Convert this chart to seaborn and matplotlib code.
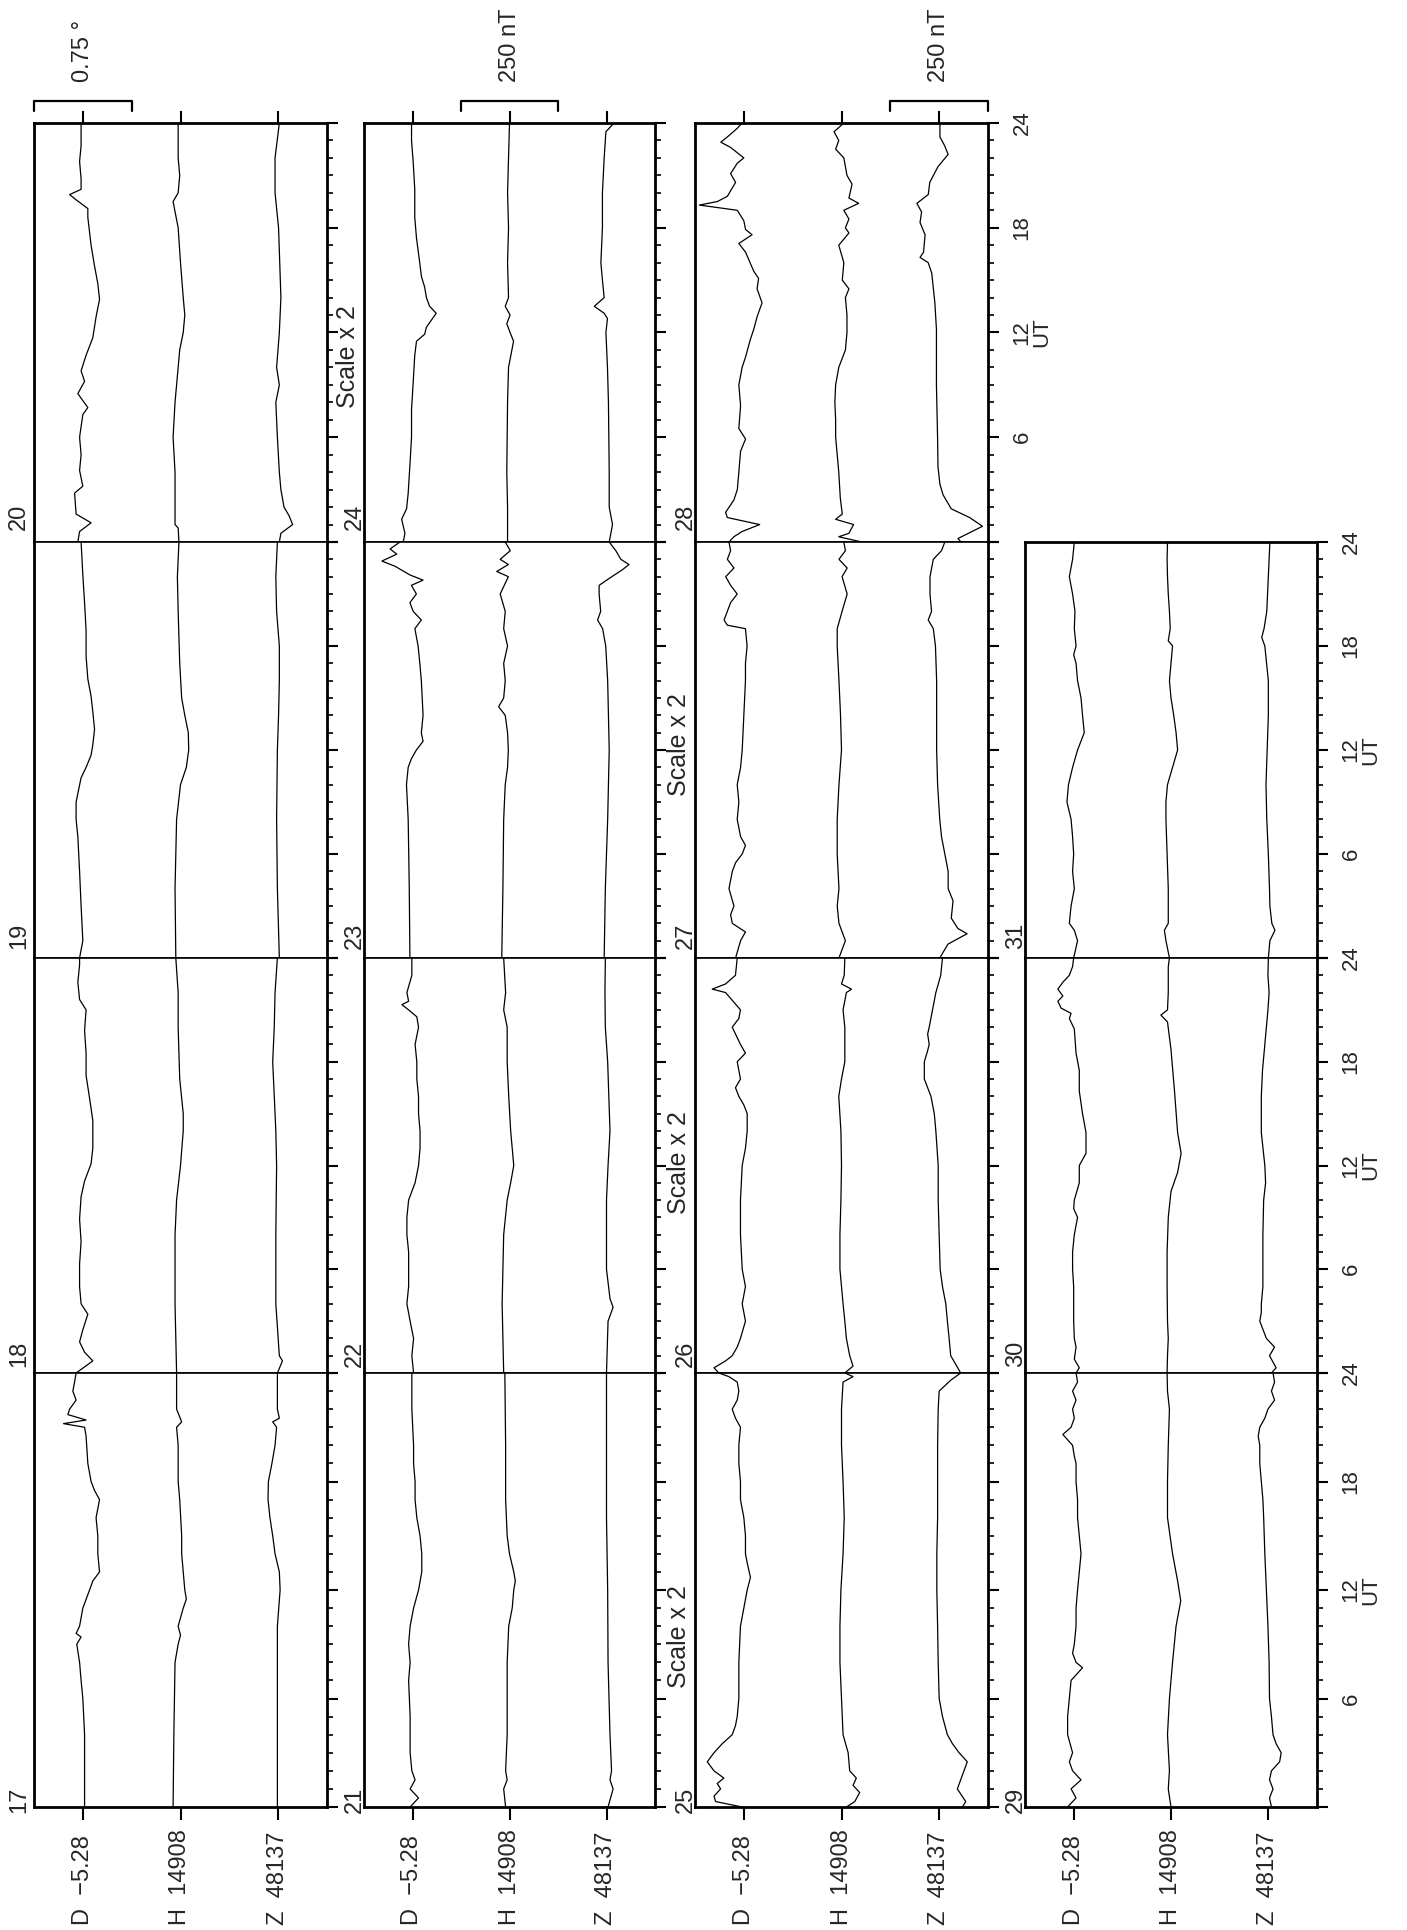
import matplotlib
matplotlib.use("Agg")
import matplotlib.pyplot as plt
import matplotlib.transforms as mtransforms
from matplotlib.ticker import FixedLocator
import numpy as np
import pandas as pd
import seaborn as sns

sns.set_theme(style="white")
plt.rcParams["font.family"] = ["Liberation Sans", "DejaVu Sans"]

# ---------------- data: (UT hour, deviation from baseline) ----------------
# D in arc-minutes, H and Z in nT (true values; "Scale x 2" days are drawn at half size)
D17 = [(0,0.8),(4,0.8),(6,0),(7,-0.8),(8,-1.5),(9,-2.8),(9.4,-0.8),(9.6,-3.1),(10,-1.5),(11,0),(12,3.1),(12.5,4.6),(13,7.7),(14,6.9),(15,6.9),(16,6.1),(17,7.7),(17.5,5.4),(18,3.8),(19,2.3),(20.5,1.5),(21.0,0.8),(21.2,-8.9),(21.4,1.5),(21.7,-6.9),(22,-6.1),(22.5,-3.1),(23,-4.6),(23.5,-3.8),(24,-3.1)]
H17 = [(0,-19),(4,-17),(8,-14),(9,-6),(9.5,0),(10,-6),(11,7),(11.5,15),(12,11),(13,7),(14,3),(15,3),(17,-2),(18,-6),(20,-6),(21,-10),(21.3,3),(22,-10),(24,-10)]
Z17 = [(0,-2),(4,-2),(8,-2),(10,-2),(12,5),(13,3),(14,-8),(15,-14),(16,-21),(17,-26),(18,-25),(19,-16),(20,-8),(21,-4),(21.3,-14),(21.5,3),(22,-2),(24,-2)]

D18 = [(0,-3.1),(0.7,4.6),(1.2,0.8),(1.8,-1.5),(2.5,0),(3.4,2.3),(4,-0.8),(5,-1.5),(6.3,-1.5),(7.6,-0.8),(8.9,-1.5),(10.2,-0.8),(11.1,0.8),(12.1,3.8),(13,4.6),(14.6,4.6),(15.9,3.1),(17.2,1.5),(18.5,1.5),(19.8,0.8),(21,1.5),(21.6,-1.5),(22.6,-2.3),(23.6,-1.5),(24,-1.5)]
H18 = [(0,-10),(4,-14),(8,-14),(10,-10),(12,0),(14,7),(15,7),(17,-2),(20,-6),(22,-6),(24,-12)]
Z18 = [(0,-2),(0.7,11),(1,3),(4,-6),(8,-6),(12,-4),(14,-6),(16,-10),(18,-14),(20,-10),(22,-8),(24,-2)]

D19 = [(0,-1.5),(1,0),(3,-0.8),(5,-1.5),(7,-2.3),(8,-3.1),(9,-3.1),(10.4,-0.8),(11,1.5),(11.7,3.8),(12.3,4.6),(13.2,5.4),(14.2,4.6),(15.1,3.8),(16.1,2.3),(17.4,1.5),(18.9,1.5),(20.5,0.8),(22.1,0),(24,-0.8)]
H19 = [(0,-12),(4,-14),(8,-10),(10,0),(11,15),(12,21),(13,20),(14,11),(15,3),(17,-2),(20,-6),(22,-8),(24,-4)]
Z19 = [(0,3),(4,-2),(8,-4),(12,-2),(14,1),(16,3),(18,3),(20,-4),(22,-6),(24,-2)]

D20 = [(0,-2.3),(0.6,-1.5),(1.1,3.8),(1.6,-3.1),(2.8,-3.8),(3.2,0),(4.1,-1.5),(5,-0.8),(6,-1.5),(7.3,0),(7.7,2.3),(8.5,-2.3),(9.2,0.8),(9.8,-0.8),(10.7,1.5),(11.7,4.6),(12.9,6.1),(13.9,7.7),(14.8,6.9),(15.8,5.4),(17,3.8),(18.6,2.3),(19.1,2.3),(19.6,-3.1),(19.9,-6.1),(20.2,-0.8),(20.8,-0.8),(21.8,-1.5),(22.7,-0.8),(24,-0.8)]
H20 = [(0,-4),(0.8,-6),(1,-14),(2,-14),(4,-14),(6,-19),(8,-14),(9,-10),(11,-2),(12,7),(13,11),(14,7),(16,0),(18,-6),(19.5,-19),(20,-6),(21,-2),(22,-6),(24,-6)]
Z20 = [(0,3),(0.5,7),(1,37),(1.5,28),(2,15),(3,7),(4,3),(6,-2),(8,-6),(9,3),(10,-4),(12,3),(14,7),(16,4),(18,1),(20,-8),(22,-8),(24,3)]

D21 = [(0,-1.1),(0.5,2.8),(1,-1.1),(1.5,1.2),(2,-0.3),(3,-1.1),(5,-1.1),(7,-1.8),(8,-1.1),(9,-1.8),(10,-1.1),(11,0.5),(12,2.8),(13,4.3),(14,4.3),(15,3.5),(16,2.0),(17,1.2),(18,1.2),(19,0.5),(20,0.5),(22,-0.3),(24,-0.3)]
H21 = [(0,-10),(1,-15),(1.5,-6),(2,-10),(4,-6),(8,-6),(10,-2),(11,7),(12,11),(12.5,15),(13,11),(14,0),(15,-6),(17,-10),(20,-10),(24,-12)]
Z21 = [(0,4),(1,17),(1.5,9),(2,13),(4,9),(8,4),(12,3),(16,0),(20,0),(24,0)]

D22 = [(0,0.5),(1,-0.3),(2,0.5),(3,-1.1),(4,-2.6),(5,-1.8),(6,-1.8),(7,-1.8),(8,-2.6),(9,-2.6),(10,-1.8),(11,1.2),(12,2.8),(13,3.5),(14,3.5),(15,2.8),(16,2.8),(17,2.0),(18,2.0),(19,1.2),(20,2.8),(20.6,2.0),(21.0,-1.8),(21.3,-4.9),(21.5,-1.8),(22,-2.6),(23,-0.3),(24,-0.3)]
H22 = [(0,-15),(4,-19),(8,-15),(10,-6),(11,3),(12,11),(13,7),(14,3),(16,-2),(18,-6),(20,-6),(21,-15),(22,-10),(24,-15)]
Z22 = [(0,0),(3,4),(3.8,17),(4.3,9),(6,0),(10,0),(12,4),(14,9),(16,6),(18,3),(20,-3),(22,-4),(24,-3)]

D23 = [(0,-1.2),(4,-1.5),(8,-2.0),(10,-2.8),(11,-2.0),(11.5,-0.5),(12,1.8),(12.5,4.9),(13,4.1),(14,4.9),(16,4.1),(17,3.4),(18,2.6),(19,1.1),(19.5,4.1),(20,0.3),(20.5,-1.2),(21,1.8),(21.5,-0.5),(21.8,4.9),(22.1,-1.2),(22.6,-8.1),(22.9,-14.2),(23.3,-7.3),(23.6,-10.4),(24,-5.8)]
H23 = [(0,-20),(4,-17),(8,-15),(10,-11),(11,-5),(12,-3),(13,-5),(14,-11),(14.5,-28),(15,-15),(16,-11),(17,-15),(18,-5),(19,-15),(20,-11),(21,-24),(22,-3),(22.3,-33),(22.7,-3),(23,-24),(23.5,2),(24,-11)]
Z23 = [(0,-6),(4,-3),(8,3),(10,5),(12,7),(14,5),(16,3),(18,-2),(19,-10),(19.5,-23),(20,-15),(21,-19),(21.5,-19),(21.9,7),(22.4,41),(22.7,58),(23,37),(23.5,24),(24,7)]

D24 = [(0,-8.6),(0.5,-7.0),(1.3,-10.1),(1.9,-5.5),(2.8,-4.0),(4.4,-2.4),(6,-0.9),(7.6,-0.9),(9.1,0.6),(10.7,2.1),(11.5,3.7),(11.9,11.3),(12.3,12.9),(12.7,17.4),(13.1,22.0),(13.5,15.9),(14.0,12.9),(14.6,11.3),(15.2,8.3),(16.0,6.7),(17.4,3.7),(18.6,2.1),(20.2,2.1),(21.8,0.6),(23,-0.9),(24,-0.9)]
H24 = [(0,-10),(2,-10),(4,-14),(8,-10),(10,-5),(11.5,21),(12,3),(12.5,-14),(13,3),(13.5,-22),(14,-5),(16,-10),(18,-5),(20,-10),(22,-5),(24,0)]
Z24 = [(0,14),(1,31),(2,14),(4,14),(8,10),(10,5),(12,-3),(12.8,5),(13.1,-12),(13.5,-63),(14,-12),(15,-21),(16,-29),(18,-21),(20,-21),(22,-12),(23.5,-3),(24,39)]

D25 = [(0,-1.5),(0.3,-26.0),(0.6,-27.5),(1,-21.4),(1.3,-24.5),(1.6,-18.4),(2,-27.5),(2.5,-33.7),(3,-27.5),(3.5,-19.9),(4,-10.7),(4.5,-7.7),(5,-6.1),(6,-4.6),(8,-4.6),(10,-3.1),(11,0),(12,3.1),(12.7,6.1),(13.5,3.1),(14,1.5),(15,1.5),(16,0),(17,-3.1),(18,-3.1),(19,-4.6),(20,-4.6),(21,-3.1),(21.5,-7.7),(22,-10.7),(22.5,-6.1),(23,-4.6),(23.5,-6.1),(23.8,-13.8),(24,-23.0)]
H25 = [(0,25),(0.3,68),(0.8,93),(1.2,59),(1.6,76),(2,42),(3,34),(4,8),(6,0),(8,-8),(10,-8),(12,-3),(14,8),(16,14),(18,8),(20,0),(22,0),(23.5,8),(23.8,59),(24,17)]
Z25 = [(0,119),(0.3,136),(1,93),(1.5,110),(2,127),(2.5,144),(3,102),(3.5,68),(4,42),(5,17),(6,0),(8,-5),(10,-8),(12,-12),(14,-12),(16,-8),(18,-8),(20,-8),(22,-5),(23,0),(23.6,59),(24,110)]

D26 = [(0,-23.0),(0.3,-27.5),(0.7,-16.8),(1,-10.7),(1.5,-6.1),(2,-3.1),(3,1.5),(4,-1.5),(5,1.5),(6,-1.5),(8,-3.1),(10,-3.1),(12,-1.5),(13,1.5),(14,3.1),(15,3.1),(15.5,0),(16,-4.6),(16.5,-7.7),(17,-3.1),(17.5,-4.6),(18,-6.1),(18.5,1.5),(19,-3.1),(20,-10.7),(20.5,-4.6),(21,-3.1),(22,-16.8),(22.2,-29.1),(22.5,-16.8),(23,-7.7),(24,-6.1)]
H26 = [(0,17),(0.4,59),(1,42),(2,25),(3,17),(4,8),(6,-8),(8,-8),(10,-3),(12,0),(14,-3),(16,-14),(17,0),(18,17),(19,17),(20,17),(21,8),(22,25),(22.2,51),(22.5,0),(23,14),(24,17)]
Z26 = [(0,110),(0.5,85),(1,59),(2,51),(3,42),(4,34),(5,17),(6,5),(8,0),(10,-5),(12,-5),(14,-17),(15,-25),(16,-42),(17,-76),(18,-76),(18.6,-60),(19,-51),(19.6,-59),(20,-51),(21,-34),(22,-17),(23,8),(24,17)]

D27 = [(0,-7.6),(1,-3.0),(1.5,1.5),(2,-10.6),(2.5,-12.2),(3,-9.1),(4,-13.7),(5,-10.6),(5.5,-7.6),(6,-1.5),(6.5,1.5),(7,-3.0),(8,-6.1),(9,-4.6),(10,-6.1),(11,-3.0),(12,-1.5),(14,0),(16,1.5),(17,1.5),(18,3.0),(19,1.5),(19.2,-15.2),(19.5,-18.2),(20,-15.2),(20.5,-12.2),(21,-6.1),(21.5,-12.2),(22,-16.7),(22.5,-9.1),(23,-15.2),(23.5,-12.2),(24,-13.7)]
H27 = [(0,-13),(1,20),(2,-13),(3,-22),(4,-13),(6,-22),(8,-22),(10,-13),(12,0),(14,-5),(16,-13),(18,-22),(19,-22),(20,3),(21,29),(22,3),(22.5,29),(23,-13),(23.5,20),(24,12)]
Z27 = [(0,3),(0.8,45),(1.4,143),(1.7,96),(2.3,62),(3.3,71),(4,46),(5,46),(6,29),(7,12),(8,3),(10,-8),(12,-13),(14,-13),(16,-13),(18,-19),(19,-30),(19.5,-56),(20,-39),(21,-47),(22,-47),(23,-30),(23.5,12),(24,29)]

D28 = [(0,-6.8),(0.3,-4.6),(0.6,-0.8),(1.0,7.3),(1.4,-7.6),(1.7,-8.4),(2.4,-4.6),(3,-3.0),(4,-2.3),(5.2,-1.5),(5.9,0.8),(6.5,-2.3),(7.8,-1.5),(9,-2.3),(10,-0.8),(10.6,0.8),(11.6,3.0),(12.2,4.6),(12.9,6.1),(13.7,8.4),(14.5,6.1),(15.1,6.8),(15.5,4.6),(16.6,0.8),(17.1,-2.3),(17.6,3.8),(17.9,0.8),(18.4,0),(19.0,-3.0),(19.3,-20.5),(19.5,-12.2),(19.8,-7.6),(20.6,-3.8),(21.1,-6.1),(21.7,-3.0),(22.0,0),(22.6,-6.1),(22.9,-10.6),(23.2,-7.6),(23.7,-3.0),(24,-0.8)]
H28 = [(0,52),(0.3,-7),(0.5,19),(1.0,31),(1.3,-15),(1.6,2),(2.5,-3),(4,-7),(5,-11),(6,-15),(7,-15),(8,-17),(9,-15),(10,-7),(11,10),(12,14),(13,14),(14,10),(14.5,19),(15,2),(16,6),(17,-7),(17.7,19),(18,10),(18.5,19),(19,6),(19.4,44),(19.7,19),(20.5,27),(21,14),(22,6),(22.5,-15),(23,-7),(23.5,-19),(24,6)]
Z28 = [(0,56),(0.2,48),(0.9,111),(1.4,78),(1.9,31),(2.7,10),(3.3,2),(4.3,-3),(5.9,-4),(9,-7),(12.2,-7),(13.7,-11),(15.4,-19),(16,-28),(16.3,-49),(16.6,-40),(17.6,-36),(18.3,-49),(18.9,-45),(19.4,-57),(19.9,-28),(20.6,-24),(21.5,-3),(22.2,23),(22.7,14),(23.2,2),(24,2)]

D29 = [(0,-2.8),(0.5,1.1),(1,-1.2),(1.5,3.4),(2,-0.5),(2.5,-2.0),(3,-0.5),(4,-2.8),(5,-2.8),(6,-2.0),(7,-1.2),(7.7,4.1),(8,1.1),(8.5,-0.5),(9,0.3),(10,1.1),(11,1.1),(12,1.8),(13,2.6),(14,3.4),(15,2.6),(16,1.8),(17,1.8),(18,1.1),(19,1.1),(19.4,0.3),(20,-0.5),(20.6,-5.0),(21,-1.2),(21.5,0.3),(22,-0.5),(22.5,1.1),(23,-0.5),(23.5,1.8),(24,1.1)]
H29 = [(0,0),(1,-7),(2,-4),(4,-9),(6,-4),(8,4),(10,13),(11.4,25),(12.5,17),(14,4),(16,-9),(18,-9),(20,-7),(22,-4),(23,-9),(24,-10)]
Z29 = [(0,8),(0.5,3),(1,12),(1.5,3),(2,8),(2.5,29),(3,33),(3.5,20),(4,12),(5,8),(6,3),(8,2),(10,-1),(12,-5),(14,-9),(16,-12),(17,-14),(18,-18),(19,-22),(20,-22),(20.5,-26),(21,-22),(21.5,-9),(22,-1),(22.5,16),(23,8),(23.5,16),(24,12)]

D30 = [(0,1.1),(0.3,2.6),(0.8,0.3),(1.5,1.1),(2,0.3),(3,0),(4,0),(5,0),(6,-0.5),(7,-0.5),(8,0.3),(9,1.8),(9.5,0),(10,0.3),(11,2.6),(12,2.6),(12.7,5.7),(13.9,5.7),(15,4.1),(16.3,2.6),(17.5,2.6),(18.5,1.1),(19.9,0.3),(20.5,-2.0),(20.8,-1.2),(21.1,-5.8),(21.5,-7.3),(21.8,-5.0),(22.2,-7.3),(22.6,-5.0),(23,-2.0),(23.5,-0.5),(24,0)]
H30 = [(0,-10),(1,-9),(2,-7),(3,-9),(5,-10),(7,-10),(9,-7),(10.5,0),(11.6,17),(12.7,26),(13.9,17),(16.3,9),(18.7,0),(20.3,-9),(20.7,-26),(21.0,-9),(22,-7),(23.5,-7),(24,-4)]
Z30 = [(0,8),(0.3,20),(1,3),(1.5,16),(2,-5),(3,-22),(3.5,-18),(4,-18),(5,-14),(6,-14),(8,-14),(10,-12),(11,-7),(12,-9),(13.9,-18),(16,-18),(17.5,-15),(19,-9),(20,-5),(21,-1),(22,2),(23,-1),(24,0)]

D31 = [(0,0),(1,1.8),(1.6,0.3),(2,-2.0),(3,-1.2),(4,0.3),(5,-0.5),(6,0),(7,-0.5),(8,-1.2),(9,-3.1),(10,-2.4),(11,-0.5),(12,1.8),(13,4.9),(14,4.1),(15,3.4),(16,1.8),(17,1.1),(17.5,0),(18,1.1),(19,0.3),(20,0.6),(21,-0.5),(22,-2.0),(23,-0.5),(24,0.3)]
H31 = [(0,-4),(1,-13),(1.6,-17),(2,-7),(4,-7),(6,-10),(8,-13),(9,-13),(10,-9),(11,4),(12,17),(13,13),(14,7),(15,0),(16,-4),(17,0),(18,4),(18.3,-7),(19,-2),(20,-4),(21,-7),(22,-9),(23,-10),(24,-9)]
Z31 = [(0,0),(1,4),(1.6,17),(2,9),(3,4),(4,3),(6,0),(8,-4),(10,-6),(12,-3),(14,0),(16,0),(18,-9),(18.5,-17),(19,-11),(20,-4),(22,0),(24,4)]

COMPONENTS = ["D", "H", "Z"]
BASELINE_VALUES = ["\u22125.28", "14908", "48137"]
SCALE_X2_DAYS = [24, 25, 26, 27]
UT_TICK_LABELS = ["", "6", "12", "18", "24"]
SCALE_BAR_TEXT = ["0.75 \u00b0", "250 nT", "250 nT"]
DAY_SERIES = {
    17: (D17, H17, Z17), 18: (D18, H18, Z18), 19: (D19, H19, Z19), 20: (D20, H20, Z20),
    21: (D21, H21, Z21), 22: (D22, H22, Z22), 23: (D23, H23, Z23), 24: (D24, H24, Z24),
    25: (D25, H25, Z25), 26: (D26, H26, Z26), 27: (D27, H27, Z27), 28: (D28, H28, Z28),
    29: (D29, H29, Z29), 30: (D30, H30, Z30), 31: (D31, H31, Z31),
}

# long-form table
rows = []
for day, comps in DAY_SERIES.items():
    for comp, series in zip(COMPONENTS, comps):
        for hour, val in series:
            rows.append((day, comp, hour, val))
df = pd.DataFrame(rows, columns=["day", "comp", "hour", "value"])

# ---------------- layout ----------------
W, Hpx = 1407, 1930
GRID = [[20, 19, 18, 17], [24, 23, 22, 21], [28, 27, 26, 25], [None, 31, 30, 29]]
COL_X0 = [34, 364, 695, 1025]
COL_X1 = [327, 655, 988, 1317]
ROW_TOP = [123, 542, 958, 1373]
ROW_BOT = [542, 958, 1373, 1807]
LABEL_Y = [517, 936, 1354, 1800]
DAY_LABEL_GAP = [15, 9, 9, 9]
SCALE_NOTE_Y = {24: 357, 27: 745, 26: 1163, 25: 1637}
BASE_POS = [0, 250, 500]          # offsets of D, H, Z traces (bar units)
XLIM = (-125, 625)
UNIT = {"D": 250 / 45.0, "H": 1.0, "Z": 1.0}   # 0.75 deg (45') == 250 nT bar
LABELLED_UT = {28, 29, 30, 31}
BAR_COMP = [0, 1, 2]              # scale bar above column c centred on this trace

fig = plt.figure(figsize=(W / 100, Hpx / 100), dpi=100)
fig.patch.set_facecolor("white")

def fx(px):
    return px / W

def fy(py):
    return 1 - py / Hpx

def data_to_px(c, x):
    return COL_X0[c] + (x - XLIM[0]) / (XLIM[1] - XLIM[0]) * (COL_X1[c] - COL_X0[c])

FS = 17
THICK, THIN = 2.0, 1.2

for c, col in enumerate(GRID):
    first_row = next(r for r, d in enumerate(col) if d is not None)
    for r, day in enumerate(col):
        if day is None:
            continue
        ax = fig.add_axes([fx(COL_X0[c]), fy(ROW_BOT[r]),
                           fx(COL_X1[c] - COL_X0[c]), (ROW_BOT[r] - ROW_TOP[r]) / Hpx])
        ax.set_facecolor("white")
        scale = 2.0 if day in SCALE_X2_DAYS else 1.0
        for k, comp in enumerate(COMPONENTS):
            sub = df[(df.day == day) & (df.comp == comp)]
            xs = BASE_POS[k] + sub["value"].to_numpy() * UNIT[comp] / scale
            sns.lineplot(x=xs, y=sub["hour"].to_numpy(), orient="y", sort=False,
                         estimator=None, errorbar=None, color="black", lw=0.9,
                         ax=ax, legend=False)
        ax.set_xlim(*XLIM)
        ax.set_ylim(0, 24)
        ax.set_xlabel("")
        ax.set_ylabel("")
        for side in ["left", "right", "top", "bottom"]:
            ax.spines[side].set_visible(True)
            ax.spines[side].set_color("black")
        ax.spines["left"].set_linewidth(THICK)
        ax.spines["right"].set_linewidth(THICK)
        ax.spines["top"].set_linewidth(THICK if r == first_row else THIN)
        ax.spines["bottom"].set_linewidth(THICK if r == len(col) - 1 else THIN)

        # time axis on the right
        ax.yaxis.tick_right()
        ax.yaxis.set_major_locator(FixedLocator([0, 6, 12, 18, 24]))
        ax.yaxis.set_minor_locator(FixedLocator(list(range(25))))
        ax.tick_params(axis="y", which="major", direction="out", length=8, width=1.5,
                       right=True, left=False, color="black", pad=9)
        ax.tick_params(axis="y", which="minor", direction="out", length=4, width=1.2,
                       right=True, left=False, color="black")
        if day in LABELLED_UT:
            ax.set_yticklabels(UT_TICK_LABELS, rotation=90, va="center", fontsize=16)
            fig.text(fx(COL_X1[c] + 54), fy(ROW_BOT[r] - (ROW_BOT[r] - ROW_TOP[r]) / 2),
                     "UT", rotation=90, ha="center", va="center", fontsize=16)
        else:
            ax.set_yticklabels([])

        # baseline ticks on the outer top/bottom edges
        ax.set_xticks(BASE_POS)
        ax.set_xticklabels([])
        top_ticks = (r == 0)
        bot_ticks = (r == len(col) - 1)
        ax.tick_params(axis="x", which="major", direction="out", length=9, width=1.5,
                       top=top_ticks, bottom=bot_ticks, labeltop=False, labelbottom=False,
                       color="black")

        # day number and scale note
        fig.text(fx(COL_X0[c] - DAY_LABEL_GAP[c]), fy(LABEL_Y[r]), str(day), rotation=90,
                 ha="center", va="center", fontsize=FS)
        if day in SCALE_X2_DAYS:
            fig.text(fx(COL_X0[c] - 16), fy(SCALE_NOTE_Y[day]), "Scale x 2", rotation=90,
                     ha="center", va="center", fontsize=18)

        # scale bar above the top day
        if r == 0 and c < len(SCALE_BAR_TEXT):
            b = BASE_POS[BAR_COMP[c]]
            trans = mtransforms.blended_transform_factory(ax.transData, fig.transFigure)
            ax.plot([b - 125, b - 125, b + 125, b + 125],
                    [fy(111), fy(101), fy(101), fy(111)], color="black", lw=1.6,
                    transform=trans, clip_on=False)
            fig.text(fx(data_to_px(c, b)), fy(82), SCALE_BAR_TEXT[c], rotation=90,
                     ha="center", va="bottom", fontsize=FS)

    # baseline labels under each column
    for k in range(3):
        fig.text(fx(data_to_px(c, BASE_POS[k])), fy(1925),
                 COMPONENTS[k] + "  " + BASELINE_VALUES[k], rotation=90,
                 ha="center", va="bottom", fontsize=FS)

fig.savefig("out.png", dpi=100, facecolor="white")
